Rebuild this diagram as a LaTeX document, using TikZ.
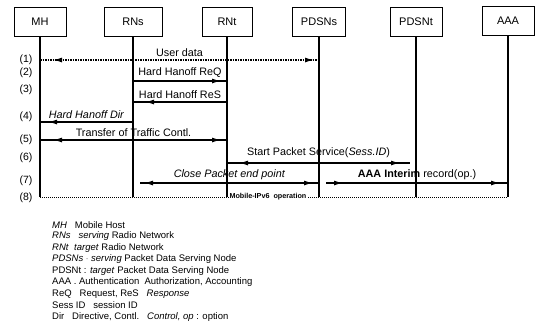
\documentclass[tikz,border=0pt]{standalone}
\usepackage{fontspec}
\setmainfont{Liberation Sans}
\usetikzlibrary{arrows.meta,decorations.markings,calc}
\tikzset{
  box/.style={draw, line width=0.9pt, minimum width=#1, minimum height=29pt, inner sep=0pt, font=\fontsize{11}{13}\selectfont},
  life/.style={line width=1.1pt},
  msg/.style={line width=1.4pt},
  udata/.style={line width=1.5pt, densely dotted},
  mobop/.style={line width=1pt, densely dotted},
  mlab/.style={font=\fontsize{10.8}{12}\selectfont, inner sep=1pt, above=1.5pt},
  rowlab/.style={font=\fontsize{10.5}{12}\selectfont, inner sep=0pt},
  leg/.style={anchor=west, font=\fontsize{9.5}{11}\selectfont, inner sep=0pt},
  tipE/.style={postaction={decorate, decoration={markings, mark=at position -#1 with {\arrow{Latex[length=9pt,width=5pt]}}}}},
  tipS/.style={postaction={decorate, decoration={markings, mark=at position #1 with {\arrowreversed{Latex[length=9pt,width=5pt]}}}}},
  tipSf/.style={postaction={decorate, decoration={markings, mark=at position #1 with {\arrow{Latex[length=9pt,width=5pt]}}}}},
}
\begin{document}
\begin{tikzpicture}[x=1pt, y=-1pt]
\useasboundingbox (0,0) rectangle (535,333);
% entities
\node[box=52pt] (mh) at (40,22) {MH};
\node[box=58pt] (rns) at (133,22) {RNs};
\node[box=50pt] (rnt) at (227,22) {RNt};
\node[box=53pt] (pdsns) at (319,22) {PDSNs};
\node[box=52pt] (pdsnt) at (416,22) {PDSNt};
\node[box=52pt] (aaa) at (508,21) {AAA};
% lifeline ends
\coordinate (mhB) at (mh |- 0,197);
\coordinate (rnsB) at (rns |- 0,197);
\coordinate (rntB) at (rnt |- 0,197);
\coordinate (pdsnsB) at (pdsns |- 0,197);
\coordinate (pdsntB) at (pdsnt |- 0,197);
\coordinate (aaaB) at (aaa |- 0,197);
\draw[life] (mh.south) -- (mhB);
\draw[life] (rns.south) -- (rnsB);
\draw[life] (rnt.south) -- (rntB);
\draw[life] (pdsns.south) -- (pdsnsB);
\draw[life] (pdsnt.south) -- (pdsntB);
\draw[life] (aaa.south) -- (aaaB);
% row numbers
\node[rowlab] (r1) at (26,60) {(1)};
\node[rowlab] (r2) at (26,73) {(2)};
\node[rowlab] (r3) at (26,90) {(3)};
\node[rowlab] (r4) at (26,117) {(4)};
\node[rowlab] (r5) at (26,140) {(5)};
\node[rowlab] (r6) at (26,158) {(6)};
\node[rowlab] (r7) at (26,181) {(7)};
\node[rowlab] (r8) at (26,198) {(8)};
% messages
\draw[udata, tipS=13pt, tipE=5pt] (mh |- 0,60) -- node[mlab] {User data} (pdsns |- 0,60);
\draw[msg, tipE=6pt] (rns |- 0,81) -- node[mlab] {Hard Hanoff ReQ} (rnt |- 0,81);
\draw[msg, tipE=12pt] (rnt |- 0,102) -- node[mlab] {Hard Hanoff ReS} (rns |- 0,102);
\draw[msg, tipE=8pt] (rns |- 0,122) -- node[mlab] {\textit{Hard Hanoff Dir}} (mh |- 0,122);
\draw[msg, tipS=13pt, tipE=6pt] (mh |- 0,140) -- node[mlab, above=0pt] {Transfer of Traffic Contl.} (rnt |- 0,140);
\draw[msg, tipS=12pt, tipE=10pt] (rnt |- 0,163) -- node[mlab, above=2.5pt] {Start Packet Service(\textit{Sess.ID})} ($(pdsnt |- 0,163)+(-6,0)$);
\draw[msg, tipS=4pt, tipE=6pt] ($(rns |- 0,183)+(7,0)$) -- node[mlab] {\textit{Close Packet end point}} (pdsns |- 0,183);
\draw[msg, tipSf=17pt, tipE=8pt] ($(pdsns |- 0,183)+(7,0)$) -- node[mlab] {\textbf{AAA Interim} record(op.)} (aaa |- 0,183);
% mobile IPv6 operation
\draw[mobop] (mhB) -- node[pos=0.487, fill=white, inner sep=1pt, font=\fontsize{7.2}{8}\selectfont\bfseries] (mip) {Mobile-IPv6\ \ operation} (aaaB);
% legend
\node[leg] (l1) at (52,225) {\textit{MH}\ \ \ Mobile Host};
\node[leg] (l2) at (52,236.5) {\textit{RNs}\ \ \ \textit{serving} Radio Network};
\node[leg] (l3) at (52,248) {\textit{RNt}\ \ \textit{target} Radio Network};
\node[leg] (l4) at (52,259.5) {\textit{PDSNs} $\cdot$ \textit{serving} Packet Data Serving Node};
\node[leg] (l5) at (52,271) {PDSNt : \textit{target} Packet Data Serving Node};
\node[leg] (l6) at (52,282.5) {AAA . Authentication\ \ Authorization, Accounting};
\node[leg] (l7) at (52,294) {ReQ\ \ \ Request, ReS\ \ \ \textit{Response}};
\node[leg] (l8) at (52,305.5) {Sess\ ID\ \ \ session ID};
\node[leg] (l9) at (52,317) {Dir\ \ \ Directive, Contl.\ \ \ \textit{Control, op} : option};
\end{tikzpicture}
\end{document}
